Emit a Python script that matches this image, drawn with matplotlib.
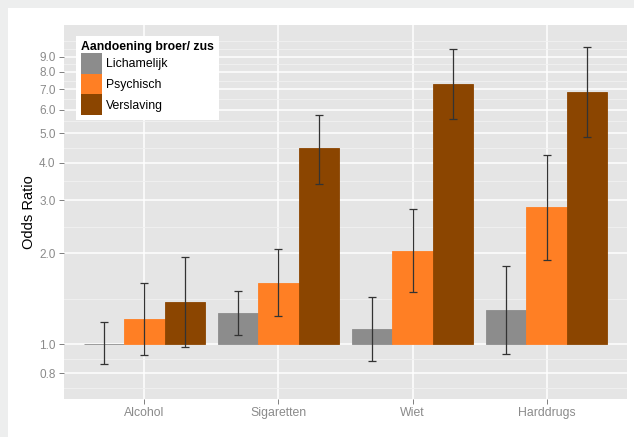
import numpy as np
import matplotlib
matplotlib.use('Agg')
import matplotlib.pyplot as plt
from matplotlib.patches import Patch, Rectangle
from matplotlib.ticker import FixedLocator, FixedFormatter, NullFormatter

plt.rcParams['font.family'] = ['Liberation Sans', 'DejaVu Sans']

categories = ['Alcohol', 'Sigaretten', 'Wiet', 'Harddrugs']
groups = ['Lichamelijk', 'Psychisch', 'Verslaving']
colors = ['#8c8c8c', '#ff7f24', '#8b4500']

# odds ratios and confidence limits, per group
odds = {
    'Lichamelijk': [1.00, 1.27, 1.12, 1.30],
    'Psychisch':   [1.21, 1.60, 2.04, 2.84],
    'Verslaving':  [1.38, 4.46, 7.28, 6.85],
}
lower = {
    'Lichamelijk': [0.86, 1.07, 0.88, 0.93],
    'Psychisch':   [0.92, 1.24, 1.49, 1.90],
    'Verslaving':  [0.98, 3.41, 5.57, 4.86],
}
upper = {
    'Lichamelijk': [1.18, 1.50, 1.43, 1.81],
    'Psychisch':   [1.59, 2.06, 2.80, 4.23],
    'Verslaving':  [1.95, 5.75, 9.53, 9.70],
}

y_breaks = [0.8, 1, 2, 3, 4, 5, 6, 7, 8, 9]
y_labels = ['0.8', '1.0', '2.0', '3.0', '4.0', '5.0', '6.0', '7.0', '8.0', '9.0']

fig = plt.figure(figsize=(6.34, 4.37), dpi=100)
fig.patch.set_facecolor('white')
W, H = 634, 437
# light grey page border on top and left
fig.patches.append(Rectangle((0, 1 - 7.5 / H), 1, 7.5 / H, transform=fig.transFigure,
                             facecolor='#edeeee', edgecolor='none', zorder=0))
fig.patches.append(Rectangle((0, 0), 8 / W, 1, transform=fig.transFigure,
                             facecolor='#edeeee', edgecolor='none', zorder=0))

ax = fig.add_axes([64 / W, 1 - 399 / H, (627 - 64) / W, (399 - 25) / H])
ax.set_facecolor('#e5e5e5')
for s in ax.spines.values():
    s.set_visible(False)

ax.set_yscale('log')
ax.set_ylim(0.657, 11.45)
x = np.arange(len(categories))
ax.set_xlim(-0.6, len(categories) - 0.4)

# minor grid: log-space midpoints of the (extended) breaks, like ggplot
lb = np.log10(y_breaks)
ext = np.concatenate([[lb[0] - (lb[1] - lb[0])], lb, [lb[-1] + (lb[-1] - lb[-2])]])
mids = (ext[:-1] + ext[1:]) / 2
minor = 10 ** np.concatenate([mids, [ext[-1]]])
ax.yaxis.set_major_locator(FixedLocator(y_breaks))
ax.yaxis.set_major_formatter(FixedFormatter(y_labels))
ax.yaxis.set_minor_locator(FixedLocator(minor))
ax.yaxis.set_minor_formatter(NullFormatter())

ax.grid(which='major', color='white', linewidth=1.1)
ax.grid(which='minor', axis='y', color='#f2f2f2', linewidth=0.6)
ax.set_axisbelow(True)

ax.set_xticks(x)
ax.set_xticklabels(categories)
ax.tick_params(axis='both', which='major', colors='#7f7f7f', labelcolor='#8a8a8a',
               length=3.3, width=0.7)
ax.tick_params(axis='y', labelsize=8.5, pad=2.8)
ax.tick_params(axis='x', labelsize=8.8, pad=2.2)
ax.tick_params(which='minor', length=0)

width = 0.3
for i, g in enumerate(groups):
    pos = x + (i - 1) * width
    vals = np.array(odds[g])
    ax.bar(pos, vals - 1, bottom=1, width=width, color=colors[i],
           edgecolor=colors[i], linewidth=0.6, zorder=2)
    err = [vals - np.array(lower[g]), np.array(upper[g]) - vals]
    ax.errorbar(pos, vals, yerr=err, fmt='none', ecolor='#333333',
                elinewidth=0.9, capsize=2.9, capthick=0.9, zorder=3)

ax.set_ylabel('Odds Ratio', fontsize=10.5, color='black', labelpad=2)

handles = [Patch(facecolor=c, edgecolor='none') for c in colors]
leg = ax.legend(handles, groups, loc='upper left',
                bbox_to_anchor=(12 / 563, 1 - 11.5 / 374),
                title='Aandoening broer/ zus', fontsize=8.8,
                title_fontproperties={'weight': 'bold', 'size': 8.8},
                handlelength=1.75, handleheight=2.21, handletextpad=0.3,
                labelspacing=0, borderpad=0.4, borderaxespad=0, fancybox=False,
                framealpha=1, edgecolor='white', alignment='left')
leg.get_frame().set_linewidth(0)

fig.savefig('out.png', dpi=100)
